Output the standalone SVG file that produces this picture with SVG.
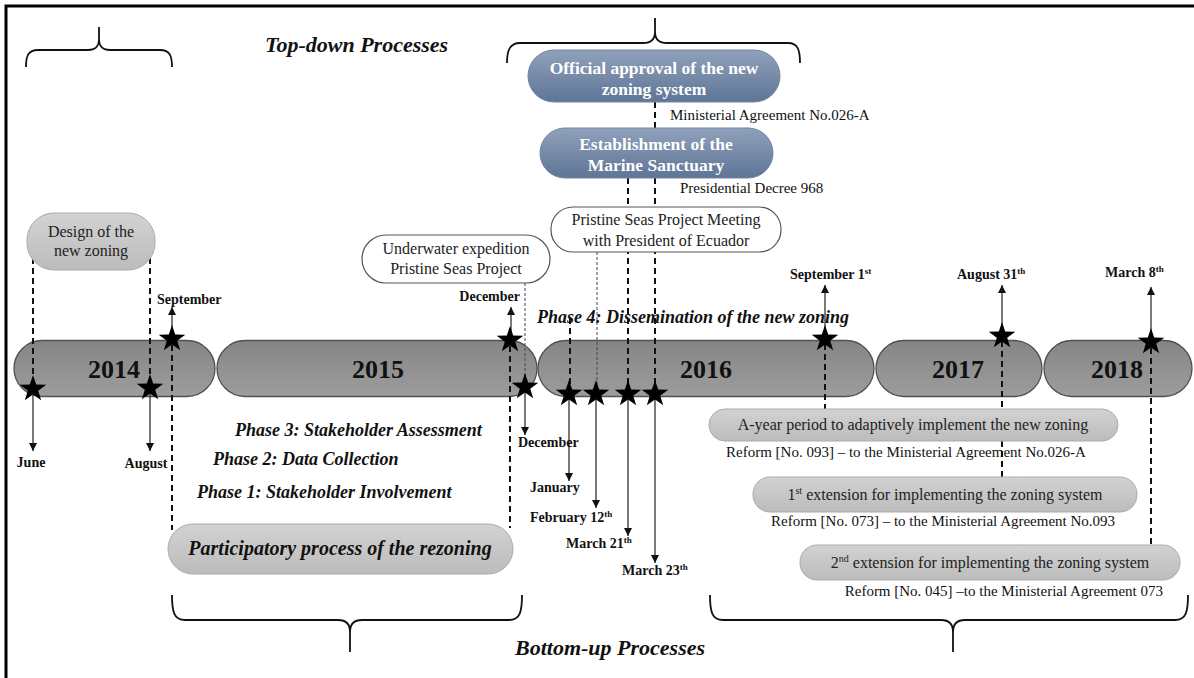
<svg xmlns="http://www.w3.org/2000/svg" xmlns:xlink="http://www.w3.org/1999/xlink" width="1194" height="678" viewBox="0 0 1194 678">
  <defs>
    <linearGradient id="barFill" x1="0" y1="0" x2="0" y2="1">
      <stop offset="0" stop-color="#858585"/>
      <stop offset="1" stop-color="#9d9d9d"/>
    </linearGradient>
    <linearGradient id="blueFill" x1="0" y1="0" x2="0" y2="1">
      <stop offset="0" stop-color="#8fa1bb"/>
      <stop offset="1" stop-color="#5f7596"/>
    </linearGradient>
    <linearGradient id="greyFill" x1="0" y1="0" x2="0" y2="1">
      <stop offset="0" stop-color="#d2d2d2"/>
      <stop offset="1" stop-color="#bcbcbc"/>
    </linearGradient>
    <polygon id="star" points="0,-14 3.2,-4.5 13.3,-4.3 5.2,1.7 8.2,11.3 0,5.5 -8.2,11.3 -5.2,1.7 -13.3,-4.3 -3.2,-4.5" fill="#000"/>
    <marker id="arrow" markerUnits="userSpaceOnUse" markerWidth="9" markerHeight="9" refX="8" refY="4" orient="auto">
      <path d="M0,0 L8,4 L0,8 z" fill="#111"/>
    </marker>
    <style>
      .bar { fill: url(#barFill); stroke: #505050; stroke-width: 1.3; }
      .blue { fill: url(#blueFill); stroke: #7084a2; stroke-width: 1; }
      .grey { fill: url(#greyFill); stroke: #ababab; stroke-width: 1; }
      .white { fill: #fff; stroke: #555; stroke-width: 1.2; }
      .year { font-family: "Liberation Serif", serif; font-weight: bold; font-size: 26px; fill: #111; text-anchor: middle; }
      .month { font-family: "Liberation Serif", serif; font-weight: bold; font-size: 14px; fill: #111; }
      .boxw { font-family: "Liberation Serif", serif; font-weight: bold; font-size: 17.5px; fill: #fff; text-anchor: middle; }
      .box { font-family: "Liberation Serif", serif; font-size: 16px; fill: #222; text-anchor: middle; }
      .note { font-family: "Liberation Serif", serif; font-size: 15px; fill: #111; }
      .phase { font-family: "Liberation Serif", serif; font-weight: bold; font-style: italic; font-size: 18px; fill: #111; }
      .title { font-family: "Liberation Serif", serif; font-weight: bold; font-style: italic; font-size: 22px; fill: #111; }
      .dash { stroke: #111; stroke-width: 2; stroke-dasharray: 6 4; fill: none; }
      .dot { stroke: #444; stroke-width: 1; stroke-dasharray: 3 2; fill: none; }
      .arr { stroke: #333; stroke-width: 1.3; fill: none; marker-end: url(#arrow); }
      .brace { stroke: #111; stroke-width: 1.8; fill: none; }
    </style>
  </defs>

  <rect width="1194" height="678" fill="#fff"/>
  <!-- frame -->
  <path d="M6,678 L6,6 L1194,6" fill="none" stroke="#000" stroke-width="3"/>

  <!-- braces and process headings -->
  <g id="top-down">
    <path class="brace" d="M26,67 C26,56 28,50 38,50 L88,50 C95,50 99,46 99,40 L99,27 M99,40 C99,46 103,50 110,50 L160,50 C170,50 172,56 172,67"/>
    <path class="brace" d="M507,63 C507,50 510,43 520,43 L643,43 C651,43 655,39 655,32 L655,18 M655,32 C655,39 659,43 667,43 L788,43 C798,43 800,50 800,63"/>
    <text class="title" x="265" y="52">Top-down Processes</text>
  </g>
  <g id="bottom-up">
    <path class="brace" d="M172,595 C172,612 174,620 185,620 L338,620 C346,620 350,624 350,632 L350,652 M350,632 C350,624 354,620 362,620 L509,620 C520,620 522,612 522,595"/>
    <path class="brace" d="M710,595 C710,612 712,620 723,620 L941,620 C949,620 953,624 953,632 L953,652 M953,632 C953,624 957,620 965,620 L1175,620 C1186,620 1188,612 1188,595"/>
    <text class="title" x="515" y="655">Bottom-up Processes</text>
  </g>

  <!-- year bars -->
  <g id="year-2014"><rect class="bar" x="14" y="340.5" width="201" height="56" rx="28"/><text class="year" x="114" y="378">2014</text></g>
  <g id="year-2015"><rect class="bar" x="217" y="340.5" width="320" height="56" rx="28"/><text class="year" x="378" y="378">2015</text></g>
  <g id="year-2016"><rect class="bar" x="538" y="340.5" width="336" height="56" rx="28"/><text class="year" x="706" y="378">2016</text></g>
  <g id="year-2017"><rect class="bar" x="876" y="340.5" width="166" height="56" rx="28"/><text class="year" x="958" y="378">2017</text></g>
  <g id="year-2018"><rect class="bar" x="1044" y="340.5" width="148" height="56" rx="28"/><text class="year" x="1117" y="378">2018</text></g>

  <!-- connectors: dashed links, dotted links and date arrows -->
  <g id="connectors">
    <line class="dash" x1="33" y1="258" x2="33" y2="384"/>
    <line class="dash" x1="150" y1="258" x2="150" y2="382"/>
    <line class="dash" x1="172" y1="345" x2="172" y2="530"/>
    <line class="dash" x1="510" y1="346" x2="510" y2="528"/>
    <line class="dot" x1="525" y1="283" x2="525" y2="382"/>
    <line class="dash" x1="570" y1="318" x2="570" y2="390"/>
    <line class="dot" x1="597" y1="252" x2="597" y2="390"/>
    <line class="dash" x1="628" y1="178" x2="628" y2="390"/>
    <line class="dash" x1="655" y1="102" x2="655" y2="128"/>
    <line class="dash" x1="655" y1="178" x2="655" y2="390"/>
    <line class="dash" x1="825" y1="344" x2="825" y2="409"/>
    <line class="dash" x1="1002" y1="341" x2="1002" y2="477"/>
    <line class="dash" x1="1151" y1="348" x2="1151" y2="545"/>

    <line class="arr" x1="33" y1="392" x2="33" y2="451"/>
    <line class="arr" x1="150" y1="392" x2="150" y2="451"/>
    <line class="arr" x1="172" y1="336" x2="172" y2="307"/>
    <line class="arr" x1="511" y1="337" x2="511" y2="307"/>
    <line class="arr" x1="525" y1="390" x2="525" y2="435"/>
    <line class="arr" x1="569" y1="396" x2="569" y2="481"/>
    <line class="arr" x1="596" y1="396" x2="596" y2="508"/>
    <line class="arr" x1="628" y1="396" x2="628" y2="536"/>
    <line class="arr" x1="655" y1="396" x2="655" y2="563"/>
    <line class="arr" x1="825" y1="336" x2="825" y2="285"/>
    <line class="arr" x1="1002" y1="333" x2="1002" y2="285"/>
    <line class="arr" x1="1151" y1="339" x2="1151" y2="287"/>
  </g>

  <!-- event stars -->
  <g id="stars">
    <use xlink:href="#star" x="33" y="389"/>
    <use xlink:href="#star" x="150" y="388"/>
    <use xlink:href="#star" x="172" y="339"/>
    <use xlink:href="#star" x="510" y="340"/>
    <use xlink:href="#star" x="525" y="387"/>
    <use xlink:href="#star" x="569" y="394"/>
    <use xlink:href="#star" x="596" y="394"/>
    <use xlink:href="#star" x="628" y="394"/>
    <use xlink:href="#star" x="655" y="394"/>
    <use xlink:href="#star" x="825" y="339"/>
    <use xlink:href="#star" x="1002" y="336"/>
    <use xlink:href="#star" x="1151" y="342"/>
  </g>

  <!-- date labels -->
  <g id="dates">
    <text class="month" x="31" y="467" text-anchor="middle">June</text>
    <text class="month" x="146" y="468" text-anchor="middle">August</text>
    <text class="month" x="157" y="304">September</text>
    <text class="month" x="520" y="301" text-anchor="end">December</text>
    <text class="month" x="518" y="447">December</text>
    <text class="month" x="530" y="492">January</text>
    <text class="month" x="530" y="522">February 12<tspan dy="-5" font-size="9">th</tspan></text>
    <text class="month" x="566" y="548">March 21<tspan dy="-5" font-size="9">th</tspan></text>
    <text class="month" x="622" y="575">March 23<tspan dy="-5" font-size="9">th</tspan></text>
    <text class="month" x="790" y="279">September 1<tspan dy="-5" font-size="9">st</tspan></text>
    <text class="month" x="957" y="279">August 31<tspan dy="-5" font-size="9">th</tspan></text>
    <text class="month" x="1105" y="277">March 8<tspan dy="-5" font-size="9">th</tspan></text>
  </g>

  <!-- top-down events -->
  <g id="official-approval">
    <rect class="blue" x="528" y="50" width="252" height="52" rx="26"/>
    <text class="boxw" x="654" y="74">Official approval of the new</text>
    <text class="boxw" x="654" y="95">zoning system</text>
  </g>
  <text class="note" x="670" y="120">Ministerial Agreement No.026-A</text>
  <g id="marine-sanctuary">
    <rect class="blue" x="540" y="128" width="233" height="50" rx="25"/>
    <text class="boxw" x="656" y="150">Establishment of the</text>
    <text class="boxw" x="656" y="171">Marine Sanctuary</text>
  </g>
  <text class="note" x="680" y="193">Presidential Decree 968</text>
  <g id="president-meeting">
    <rect class="white" x="551" y="207" width="230" height="45" rx="22"/>
    <text class="box" x="666" y="225">Pristine Seas Project Meeting</text>
    <text class="box" x="666" y="246">with President of Ecuador</text>
  </g>
  <g id="underwater-expedition">
    <rect class="white" x="362" y="235" width="188" height="48" rx="24"/>
    <text class="box" x="456" y="254">Underwater expedition</text>
    <text class="box" x="456" y="274">Pristine Seas Project</text>
  </g>
  <g id="design-zoning">
    <rect class="grey" x="27" y="213" width="128" height="57" rx="27"/>
    <text class="box" x="91" y="237">Design of the</text>
    <text class="box" x="91" y="256">new zoning</text>
  </g>

  <!-- participatory phases -->
  <g id="phases">
    <text class="phase" x="235" y="436">Phase 3: Stakeholder Assessment</text>
    <text class="phase" x="213" y="465">Phase 2: Data Collection</text>
    <text class="phase" x="197" y="498">Phase 1: Stakeholder Involvement</text>
    <text class="phase" x="537" y="323" font-size="16">Phase 4: Dissemination of the new zoning</text>
  </g>
  <g id="participatory-process">
    <rect class="grey" x="168" y="524" width="345" height="50" rx="25"/>
    <text x="340" y="555" text-anchor="middle" font-family="Liberation Serif, serif" font-weight="bold" font-style="italic" font-size="20" fill="#111">Participatory process of the rezoning</text>
  </g>

  <!-- bottom-up implementation -->
  <g id="year-period">
    <rect class="grey" x="709" y="409" width="409" height="32" rx="16"/>
    <text class="box" x="913" y="430" font-size="17">A-year period to adaptively implement the new zoning</text>
  </g>
  <text class="note" x="726" y="457">Reform [No. 093] – to the Ministerial Agreement No.026-A</text>
  <g id="first-extension">
    <rect class="grey" x="753" y="477" width="384" height="35" rx="17"/>
    <text class="box" x="945" y="500" font-size="17">1<tspan dy="-6" font-size="10">st</tspan><tspan dy="6"> extension for implementing the zoning system</tspan></text>
  </g>
  <text class="note" x="771" y="526">Reform [No. 073] – to the Ministerial Agreement No.093</text>
  <g id="second-extension">
    <rect class="grey" x="800" y="545" width="380" height="35" rx="17"/>
    <text class="box" x="990" y="568" font-size="17">2<tspan dy="-6" font-size="10">nd</tspan><tspan dy="6"> extension for implementing the zoning system</tspan></text>
  </g>
  <text class="note" x="1163" y="596" text-anchor="end">Reform [No. 045] –to the Ministerial Agreement 073</text>
</svg>
